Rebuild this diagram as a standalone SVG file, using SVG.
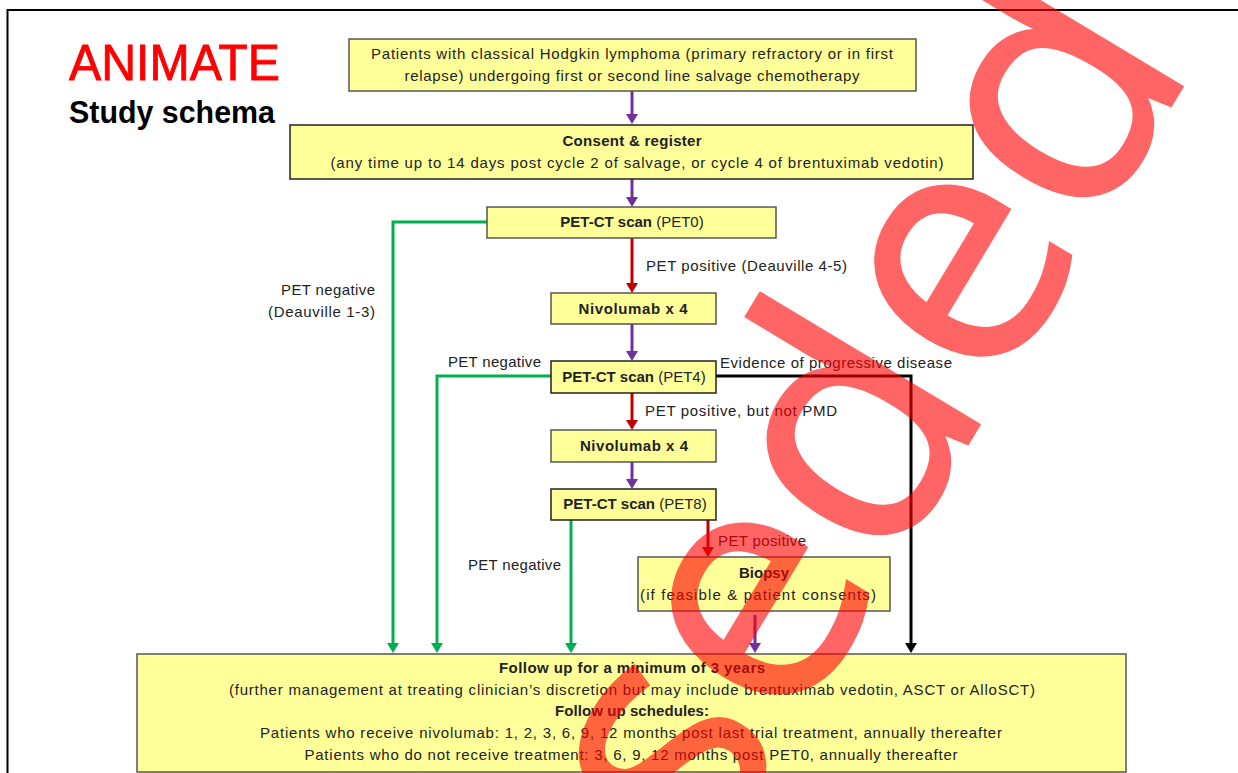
<svg xmlns="http://www.w3.org/2000/svg" width="1238" height="773" viewBox="0 0 1238 773">
<style>
.box{fill:#FFFF99;stroke:#555;stroke-width:1.5}
.t{font-family:"Liberation Sans",Arial,sans-serif;font-size:15px;fill:#222;text-anchor:middle}
.l{font-family:"Liberation Sans",Arial,sans-serif;font-size:15px;fill:#222}
.b{font-weight:bold}
.c{fill:none;stroke-width:3}
.pu{stroke:#7030A0}.rd{stroke:#C00000}.gr{stroke:#00B050}.bk{stroke:#000}
</style>
<defs>
<marker id="ap" viewBox="0 0 10 12" refX="4" refY="6" markerWidth="10" markerHeight="12" markerUnits="userSpaceOnUse" orient="auto"><path d="M0,0 L10,6 L0,12 z" fill="#7030A0"/></marker>
<marker id="ar" viewBox="0 0 10 12" refX="4" refY="6" markerWidth="10" markerHeight="12" markerUnits="userSpaceOnUse" orient="auto"><path d="M0,0 L10,6 L0,12 z" fill="#C00000"/></marker>
<marker id="ag" viewBox="0 0 10 12" refX="4" refY="6" markerWidth="10" markerHeight="12" markerUnits="userSpaceOnUse" orient="auto"><path d="M0,0 L10,6 L0,12 z" fill="#00B050"/></marker>
<marker id="ab" viewBox="0 0 10 12" refX="4" refY="6" markerWidth="10" markerHeight="12" markerUnits="userSpaceOnUse" orient="auto"><path d="M0,0 L10,6 L0,12 z" fill="#000"/></marker>
</defs>
<rect width="1238" height="773" fill="#fff"/>
<rect x="7.5" y="10" width="1260" height="800" fill="none" stroke="#000" stroke-width="2"/>
<g id="title">
<text x="69" y="80" font-family="Liberation Sans,Arial,sans-serif" font-size="50" fill="#FF0000" stroke="#FF0000" stroke-width="0.8" textLength="211" lengthAdjust="spacingAndGlyphs">ANIMATE</text>
<text x="69" y="123" font-family="Liberation Sans,Arial,sans-serif" font-size="31" font-weight="bold" fill="#000" textLength="206" lengthAdjust="spacingAndGlyphs">Study schema</text>
</g>
<g id="connectors">
<path class="c pu" d="M632,91 V118" marker-end="url(#ap)"/>
<path class="c pu" d="M632,179 V201" marker-end="url(#ap)"/>
<path class="c rd" d="M632,238 V287" marker-end="url(#ar)"/>
<path class="c pu" d="M632,324 V355" marker-end="url(#ap)"/>
<path class="c rd" d="M632,393 V424" marker-end="url(#ar)"/>
<path class="c pu" d="M632,462 V483" marker-end="url(#ap)"/>
<path class="c rd" d="M708,520 V551" marker-end="url(#ar)"/>
<path class="c pu" d="M755,615 V647" marker-end="url(#ap)"/>
<path class="c gr" d="M487,222 H393 V647" marker-end="url(#ag)"/>
<path class="c gr" d="M551,376 H437 V647" marker-end="url(#ag)"/>
<path class="c gr" d="M571,520 V647" marker-end="url(#ag)"/>
<path class="c bk" d="M716,376 H911 V647" marker-end="url(#ab)"/>
<text class="l" x="646" y="271" textLength="201">PET positive (Deauville 4-5)</text>
<text class="l" x="375" y="295" text-anchor="end" textLength="94">PET negative</text>
<text class="l" x="375" y="317" text-anchor="end" textLength="107">(Deauville 1-3)</text>
<text class="l" x="448" y="367" textLength="93">PET negative</text>
<text class="l" x="720" y="368" textLength="232">Evidence of progressive disease</text>
<text class="l" x="645" y="416" textLength="192">PET positive, but not PMD</text>
<text class="l" x="718" y="546" textLength="88">PET positive</text>
<text class="l" x="468" y="570" textLength="93">PET negative</text>
</g>
<g id="n-patients">
<rect class="box" x="349" y="39" width="567" height="52"/>
<text class="t" x="632" y="59" textLength="522">Patients with classical Hodgkin lymphoma (primary refractory or in first</text>
<text class="t" x="632" y="81" textLength="455">relapse) undergoing first or second line salvage chemotherapy</text>
</g>
<g id="n-consent">
<rect class="box" x="290" y="125" width="683" height="54" style="stroke:#222"/>
<text class="t b" x="632" y="146" textLength="139">Consent &amp; register</text>
<text class="t" x="637" y="168" textLength="613">(any time up to 14 days post cycle 2 of salvage, or cycle 4 of brentuximab vedotin)</text>
</g>
<g id="n-pet0">
<rect class="box" x="487" y="207" width="289" height="31"/>
<text class="t" x="632" y="227"><tspan class="b">PET-CT scan</tspan> (PET0)</text>
</g>
<g id="n-nivo1">
<rect class="box" x="551" y="293" width="165" height="31"/>
<text class="t b" x="633" y="314" textLength="109">Nivolumab x 4</text>
</g>
<g id="n-pet4">
<rect class="box" x="551" y="361" width="165" height="32" style="stroke:#222"/>
<text class="t" x="634" y="382"><tspan class="b">PET-CT scan</tspan> (PET4)</text>
</g>
<g id="n-nivo2">
<rect class="box" x="551" y="430" width="165" height="32"/>
<text class="t b" x="634" y="451" textLength="108">Nivolumab x 4</text>
</g>
<g id="n-pet8">
<rect class="box" x="551" y="489" width="165" height="31" style="stroke:#222"/>
<text class="t" x="635" y="509"><tspan class="b">PET-CT scan</tspan> (PET8)</text>
</g>
<g id="n-biopsy">
<rect class="box" x="638" y="557" width="252" height="54"/>
<text class="t b" x="764" y="578" textLength="50">Biopsy</text>
<text class="t" x="758" y="600" textLength="236">(if feasible &amp; patient consents)</text>
</g>
<g id="n-followup">
<rect class="box" x="137" y="654" width="989" height="118"/>
<text class="t b" x="632" y="673" textLength="266">Follow up for a minimum of 3 years</text>
<text class="t" x="632" y="695" textLength="806">(further management at treating clinician’s discretion but may include brentuximab vedotin, ASCT or AlloSCT)</text>
<text class="t b" x="632" y="716" textLength="154">Follow up schedules:</text>
<text class="t" x="631" y="738" textLength="742">Patients who receive nivolumab: 1, 2, 3, 6, 9, 12 months post last trial treatment, annually thereafter</text>
<text class="t" x="631" y="760" textLength="653">Patients who do not receive treatment: 3, 6, 9, 12 months post PET0, annually thereafter</text>
</g>
<g id="watermark" opacity="0.6" transform="translate(1197,62) rotate(-59)">
<text x="0" y="0" text-anchor="end" font-family="Open Sans,sans-serif" font-size="336" fill="#FF0000" stroke="#FF0000" stroke-width="3">Superseded</text>
</g>
</svg>
